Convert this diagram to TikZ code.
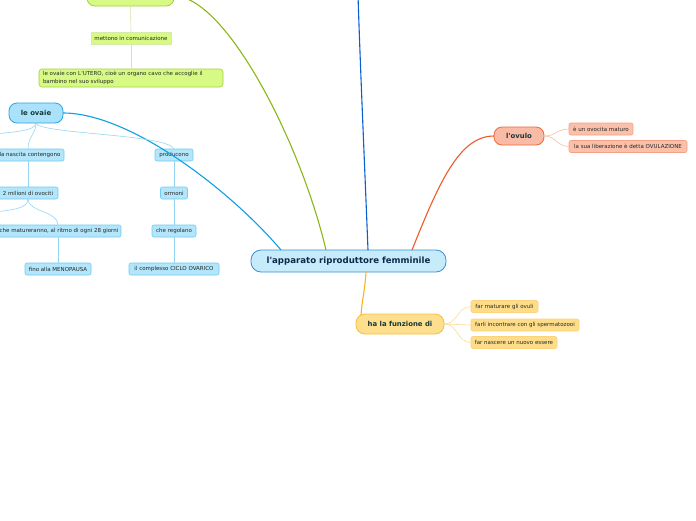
\documentclass[tikz,border=0pt]{standalone}
\usepackage{fontspec}
\newfontfamily\dv{DejaVu Sans}
\definecolor{mainfill}{HTML}{C6ECFB}
\definecolor{mainborder}{HTML}{3A8FD6}
\definecolor{maintext}{HTML}{10294A}
\definecolor{lvtext}{HTML}{17383A}
\definecolor{bluefill}{HTML}{A9E2FA}
\definecolor{blueborder}{HTML}{2AA6E6}
\definecolor{bluesubfill}{HTML}{B3E5FB}
\definecolor{bluesubborder}{HTML}{74CBF2}
\definecolor{bluesubline}{HTML}{96D6F5}
\definecolor{blueline}{HTML}{0EA0E4}
\definecolor{darkblueline}{HTML}{0A5FD0}
\definecolor{greenfill}{HTML}{D6FA84}
\definecolor{greenborder}{HTML}{A3D23E}
\definecolor{greenline}{HTML}{8AB816}
\definecolor{greensubline}{HTML}{D3E8A8}
\definecolor{orangefill}{HTML}{F9BBA6}
\definecolor{orangeborder}{HTML}{F0683A}
\definecolor{orangeline}{HTML}{F05A28}
\definecolor{orangesubfill}{HTML}{FBC0AA}
\definecolor{orangesubborder}{HTML}{F5A084}
\definecolor{orangesubline}{HTML}{F8BBA4}
\definecolor{yellowfill}{HTML}{FEDF8D}
\definecolor{yellowborder}{HTML}{F9BE3B}
\definecolor{yellowline}{HTML}{FBB516}
\definecolor{yellowsubfill}{HTML}{FEDD8A}
\definecolor{yellowsubborder}{HTML}{FCD27A}
\definecolor{yellowsubline}{HTML}{FDDB94}
\tikzset{
  base/.style={inner sep=0pt, outer sep=0pt, align=center},
  small/.style={base, font=\dv\fontsize{5.5}{8}\selectfont, text=black!85, rounded corners=2pt, line width=0.6pt, minimum height=12pt},
  lvone/.style={base, font=\dv\bfseries\fontsize{6.9}{8}\selectfont, text=lvtext, line width=0.8pt},
  mainbox/.style={base, font=\dv\bfseries\fontsize{8.6}{10}\selectfont, text=maintext, fill=mainfill, draw=mainborder, line width=0.8pt, rounded corners=10pt, minimum width=195pt, minimum height=22pt},
  bsub/.style={small, fill=bluesubfill, draw=bluesubborder},
  gsub/.style={small, fill=greenfill, draw=greenborder!70},
  osub/.style={small, fill=orangesubfill, draw=orangesubborder},
  ysub/.style={small, fill=yellowsubfill, draw=yellowsubborder},
  thick line/.style={line width=1.1pt},
  thin line/.style={line width=0.6pt},
}
\begin{document}
\begin{tikzpicture}[x=1pt,y=-1pt]
\useasboundingbox (0,0) rectangle (696,520);
\clip (0,0) rectangle (696,520);
\fill[white] (0,0) rectangle (696,520);

% nodes
\node[mainbox] (main) at (348.5,261) {l'apparato riproduttore femminile};

% green branch
\node[lvone, fill=greenfill, draw=greenborder, rounded corners=8pt, minimum width=87pt, minimum height=20pt] (gtop) at (130.5,-4) {};
\node[small, fill=greenfill, draw=greenborder!45, rounded corners=0pt, minimum width=80pt] (mettono) at (131,38) {mettono in comunicazione};
\node[small, fill=greenfill, draw=greenborder, rounded corners=3pt, minimum width=184pt, minimum height=18pt, align=left, text width=176pt] (utero) at (131,78) {le ovaie con L'UTERO, cioè un organo cavo che accoglie il\\bambino nel suo sviluppo};

% blue branch
\node[lvone, fill=bluefill, draw=blueborder, rounded corners=8pt, minimum width=54pt, minimum height=20pt] (ovaie) at (36,113) {le ovaie};
\node[bsub, minimum width=68pt] (nascita) at (30,155) {la nascita contengono};
\node[bsub, minimum width=60pt] (milioni) at (28,193) {2 milioni di ovociti};
\node[bsub, minimum width=124pt] (matur) at (59,231) {che matureranno, al ritmo di ogni 28 giorni};
\node[bsub, minimum width=66pt] (meno) at (58,269) {fino alla MENOPAUSA};
\node[bsub, minimum width=38pt] (produc) at (174,155) {producono};
\node[bsub, minimum width=27pt] (ormoni) at (174,193) {ormoni};
\node[bsub, minimum width=44pt] (regol) at (174,231) {che regolano};
\node[bsub, minimum width=90pt] (ciclo) at (174,269) {il complesso CICLO OVARICO};

% orange branch
\node[lvone, fill=orangefill, draw=orangeborder, rounded corners=8pt, minimum width=50pt, minimum height=18pt] (ovulo) at (519,136) {l'ovulo};
\node[osub, minimum width=64pt] (maturo) at (601,129) {è un ovocita maturo};
\node[osub, minimum width=118pt] (ovul) at (628,146.5) {la sua liberazione è detta OVULAZIONE};

% yellow branch
\node[lvone, fill=yellowfill, draw=yellowborder, rounded corners=9pt, minimum width=88pt, minimum height=20pt] (funz) at (400,324) {ha la funzione di};
\node[ysub, minimum width=67pt] (fa) at (504.5,306.5) {far maturare gli ovuli};
\node[ysub, minimum width=108pt] (fb) at (525,325) {farli incontrare con gli spermatozooi};
\node[ysub, minimum width=86pt] (fc) at (514,342.5) {far nascere un nuovo essere};

% free ends
\coordinate (topblue) at (358,-5);
\coordinate (offa) at (-5,134);
\coordinate (offb) at (-5,212);

% main connectors
\begin{scope}[on background layer/.try]
\end{scope}
\draw[thick line, greenline] ([xshift=75pt]main.north west) .. controls (300,140) and (225,-4) .. (gtop.east);
\draw[thick line, blueline] ([xshift=30pt]main.north west) .. controls (230,190) and (130,113) .. (ovaie.east);
\draw[thick line, darkblueline] ([xshift=117pt]main.north west) .. controls (364,150) and (360,60) .. (topblue);
\draw[thick line, orangeline] ([xshift=161pt]main.north west) .. controls (440,180) and (460,136) .. (ovulo.west);
\draw[thick line, yellowline] ([xshift=115pt]main.south west) .. controls (365,290) and (362,300) .. ([xshift=5pt,yshift=-1pt]funz.north west);

% green sub
\draw[thin line, greensubline] (gtop.south) -- (mettono.north);
\draw[thin line, greensubline] (mettono.south) -- (utero.north);

% blue sub
\draw[thin line, bluesubline] (ovaie.south) .. controls (36,131) and (12,132) .. (offa);
\draw[thin line, bluesubline] (ovaie.south) .. controls (36,134) and (28,136) .. ([xshift=-2pt]nascita.north);
\draw[thin line, bluesubline] (ovaie.south) .. controls (38,134) and (168,134) .. (produc.north);
\draw[thin line, bluesubline] ([xshift=-2pt]nascita.south) -- (milioni.north);
\draw[thin line, bluesubline] (milioni.south) .. controls (28,209) and (10,210) .. (offb);
\draw[thin line, bluesubline] (milioni.south) .. controls (28,212) and (58,211) .. ([xshift=-1pt]matur.north);
\draw[thin line, bluesubline] ([xshift=-1pt]matur.south) -- (meno.north);
\draw[thin line, bluesubline] (produc.south) -- (ormoni.north);
\draw[thin line, bluesubline] (ormoni.south) -- (regol.north);
\draw[thin line, bluesubline] (regol.south) -- (ciclo.north);

% orange sub
\draw[thin line, orangesubline] (ovulo.east) .. controls (556,136) and (557,129) .. (maturo.west);
\draw[thin line, orangesubline] (ovulo.east) .. controls (556,136) and (557,146.5) .. (ovul.west);

% yellow sub
\draw[thin line, yellowsubline] (funz.east) .. controls (458,324) and (457,306.5) .. (fa.west);
\draw[thin line, yellowsubline] (funz.east) .. controls (458,324) and (457,325) .. (fb.west);
\draw[thin line, yellowsubline] (funz.east) .. controls (458,324) and (457,342.5) .. (fc.west);
\end{tikzpicture}
\end{document}
